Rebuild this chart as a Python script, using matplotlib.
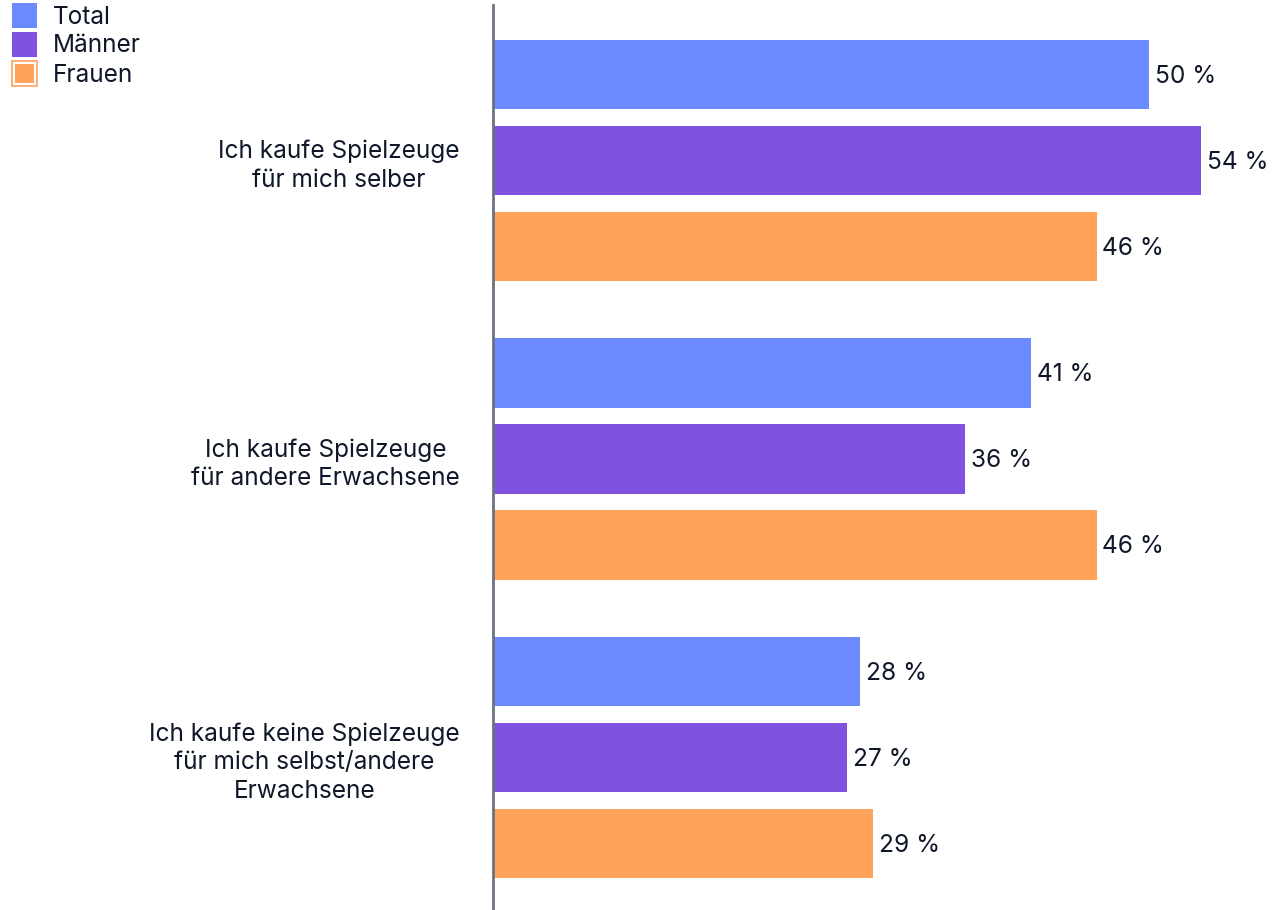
import matplotlib.pyplot as plt
from matplotlib.patches import Rectangle

categories = [
    "Ich kaufe Spielzeuge\nfür mich selber",
    "Ich kaufe Spielzeuge\nfür andere Erwachsene",
    "Ich kaufe keine Spielzeuge\nfür mich selbst/andere\nErwachsene",
]
series_names = ["Total", "Männer", "Frauen"]
total = [50, 41, 28]
maenner = [54, 36, 27]
frauen = [46, 46, 29]

COLORS = ["#6b8afd", "#8052e0", "#ffa25a"]
TEXT = "#0f1729"
FONT = "Inter"
FS = 17.6

plt.rcParams["font.family"] = [FONT, "DejaVu Sans"]

fig = plt.figure(figsize=(12.73, 9.10), dpi=100)
W, H = 1273, 910
ax = fig.add_axes([493 / W, 0, (W - 493) / W, 905 / H])

group_step = 3.47
series = [total, maenner, frauen]
for gi in range(len(categories)):
    for si, vals in enumerate(series):
        y = gi * group_step + si
        ax.barh(y, vals[gi], height=0.81, color=COLORS[si], linewidth=0)
        ax.text(vals[gi] + 0.45, y + 0.02, f"{vals[gi]} %", va="center", ha="left",
                fontsize=FS, color=TEXT)

ax.set_xlim(0, (W - 493) / 13.12)
ax.set_ylim(2 * group_step + 2 + 0.773, -0.808)
for s in ["top", "right", "bottom"]:
    ax.spines[s].set_visible(False)
ax.spines["left"].set_color("#6b7280")
ax.spines["left"].set_linewidth(2)
ax.set_xticks([])
ax.set_yticks([gi * group_step + 1 for gi in range(len(categories))])
ax.set_yticklabels(categories, fontsize=FS, color=TEXT, multialignment="center",
                   linespacing=1.3)
ax.tick_params(axis="y", length=0, pad=24)

# legend
for i, name in enumerate(series_names):
    top = 3 + i * 29
    if i == 2:
        fig.patches.append(Rectangle((12 / W, 1 - (top + 25) / H), 25 / W, 25 / H,
                                     transform=fig.transFigure, facecolor="white",
                                     edgecolor=COLORS[i], linewidth=1.2))
        fig.patches.append(Rectangle((15 / W, 1 - (top + 22) / H), 19 / W, 19 / H,
                                     transform=fig.transFigure, facecolor=COLORS[i],
                                     linewidth=0))
    else:
        fig.patches.append(Rectangle((12 / W, 1 - (top + 25) / H), 25 / W, 25 / H,
                                     transform=fig.transFigure, facecolor=COLORS[i],
                                     linewidth=0))
    fig.text(53 / W, 1 - (top + 14) / H, name, va="center", ha="left",
             fontsize=FS, color=TEXT)

fig.savefig("out.png", dpi=100, facecolor="white")
